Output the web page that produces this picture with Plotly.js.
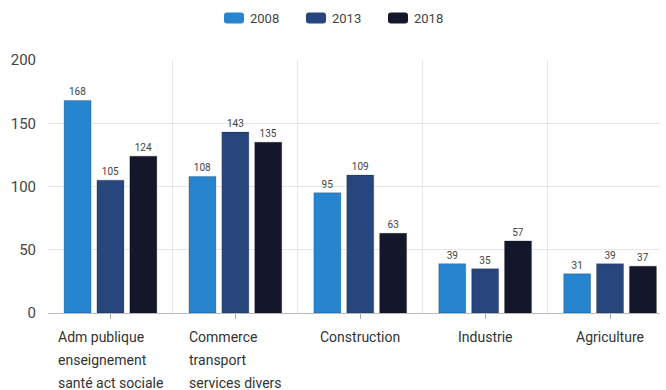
<!DOCTYPE html>
<html><head><meta charset="utf-8">
<script src="https://cdn.plot.ly/plotly-3.0.1.min.js"></script>
<style>html,body{margin:0;padding:0;background:#fff}#chart{width:666px;height:390px}</style>
</head><body><div id="chart"></div>
<script>
const categories = [
  ["Adm publique", "enseignement", "santé act sociale"],
  ["Commerce", "transport", "services divers"],
  ["Construction"],
  ["Industrie"],
  ["Agriculture"]
];
const years = ["2008", "2013", "2018"];
const values2008 = [168, 108, 95, 39, 31];
const values2013 = [105, 143, 109, 35, 39];
const values2018 = [124, 135, 63, 57, 37];
const colors = ["#2785d0", "#27467e", "#14172b"];
const yTicks = [0, 50, 100, 150, 200];

const FONT = "Roboto, 'Open Sans', sans-serif";
const W = 666, H = 390;
const M = {l: 48, r: 6, t: 60, b: 77};
const plotW = W - M.l - M.r, plotH = H - M.t - M.b;
const px2x = p => (p - M.l) / plotW;
const px2y = p => (H - M.b - p) / plotH;

const xs = categories.map((c, i) => i);
const series = [values2008, values2013, values2018];

const traces = series.map((vals, k) => ({
  type: "bar",
  name: years[k],
  x: xs,
  y: vals,
  text: vals.map(String),
  textposition: "outside",
  textfont: {family: FONT, size: 10, color: "#444"},
  cliponaxis: false,
  marker: {color: colors[k], line: {color: "rgba(0,0,0,0.35)", width: 0.6}},
  hoverinfo: "none"
}));

// measure text for left-aligned multi-line labels
const cv = document.createElement("canvas").getContext("2d");
cv.font = "14px Roboto";
const annotations = [];
categories.forEach((lines, i) => {
  const w = Math.max(...lines.map(l => cv.measureText(l).width));
  lines.forEach((line, j) => {
    annotations.push({
      x: i, xref: "x", y: 0, yref: "paper",
      xanchor: "left", yanchor: "middle",
      xshift: -w / 2 - 2, yshift: -(24 + 23 * j),
      text: line, showarrow: false,
      font: {family: FONT, size: 14, color: "#333"}
    });
  });
});

// custom legend with rounded swatches
const shapes = [];
const legStart = 224, legStep = 82, swW = 20, swH = 11, legY = 18, r = 3;
years.forEach((yr, k) => {
  const x0 = legStart + k * legStep, x1 = x0 + swW;
  const y0 = legY - swH / 2, y1 = legY + swH / 2;
  const X = p => px2x(p), Y = p => px2y(p);
  const path = `M${X(x0 + r)},${Y(y0)} L${X(x1 - r)},${Y(y0)} Q${X(x1)},${Y(y0)} ${X(x1)},${Y(y0 + r)} ` +
    `L${X(x1)},${Y(y1 - r)} Q${X(x1)},${Y(y1)} ${X(x1 - r)},${Y(y1)} L${X(x0 + r)},${Y(y1)} ` +
    `Q${X(x0)},${Y(y1)} ${X(x0)},${Y(y1 - r)} L${X(x0)},${Y(y0 + r)} Q${X(x0)},${Y(y0)} ${X(x0 + r)},${Y(y0)} Z`;
  shapes.push({type: "path", xref: "paper", yref: "paper", path: path,
    fillcolor: colors[k], line: {width: 0}});
  annotations.push({
    x: px2x(x1 + 4), xref: "paper", y: px2y(legY), yref: "paper",
    xanchor: "left", yanchor: "middle", showarrow: false,
    text: yr, font: {family: FONT, size: 13, color: "#444"}
  });
});

const layout = {
  width: W, height: H,
  margin: M,
  paper_bgcolor: "#fff", plot_bgcolor: "#fff",
  barmode: "group", bargap: 0.21, bargroupgap: 0.18,
  showlegend: false,
  xaxis: {
    range: [-0.5, 4.4], tickvals: xs, ticktext: xs.map(() => ""),
    showgrid: false, ticks: "outside", ticklen: 5, tickcolor: "#aaa",
    minor: {tickmode: "linear", tick0: 0.5, dtick: 1, showgrid: true, gridcolor: "#e6e6e6", gridwidth: 1, ticks: ""},
    zeroline: false, showline: false, fixedrange: true
  },
  yaxis: {
    range: [0, 200], tickvals: yTicks, showgrid: true, gridcolor: "#e6e6e6",
    zeroline: true, zerolinecolor: "#bbb", zerolinewidth: 1,
    ticks: "outside", ticklen: 8, tickcolor: "rgba(0,0,0,0)",
    tickfont: {family: FONT, size: 15, color: "#444"}, fixedrange: true
  },
  shapes: shapes,
  annotations: annotations,
  font: {family: FONT}
};

Plotly.newPlot("chart", traces, layout, {displayModeBar: false, staticPlot: true});
</script></body></html>
